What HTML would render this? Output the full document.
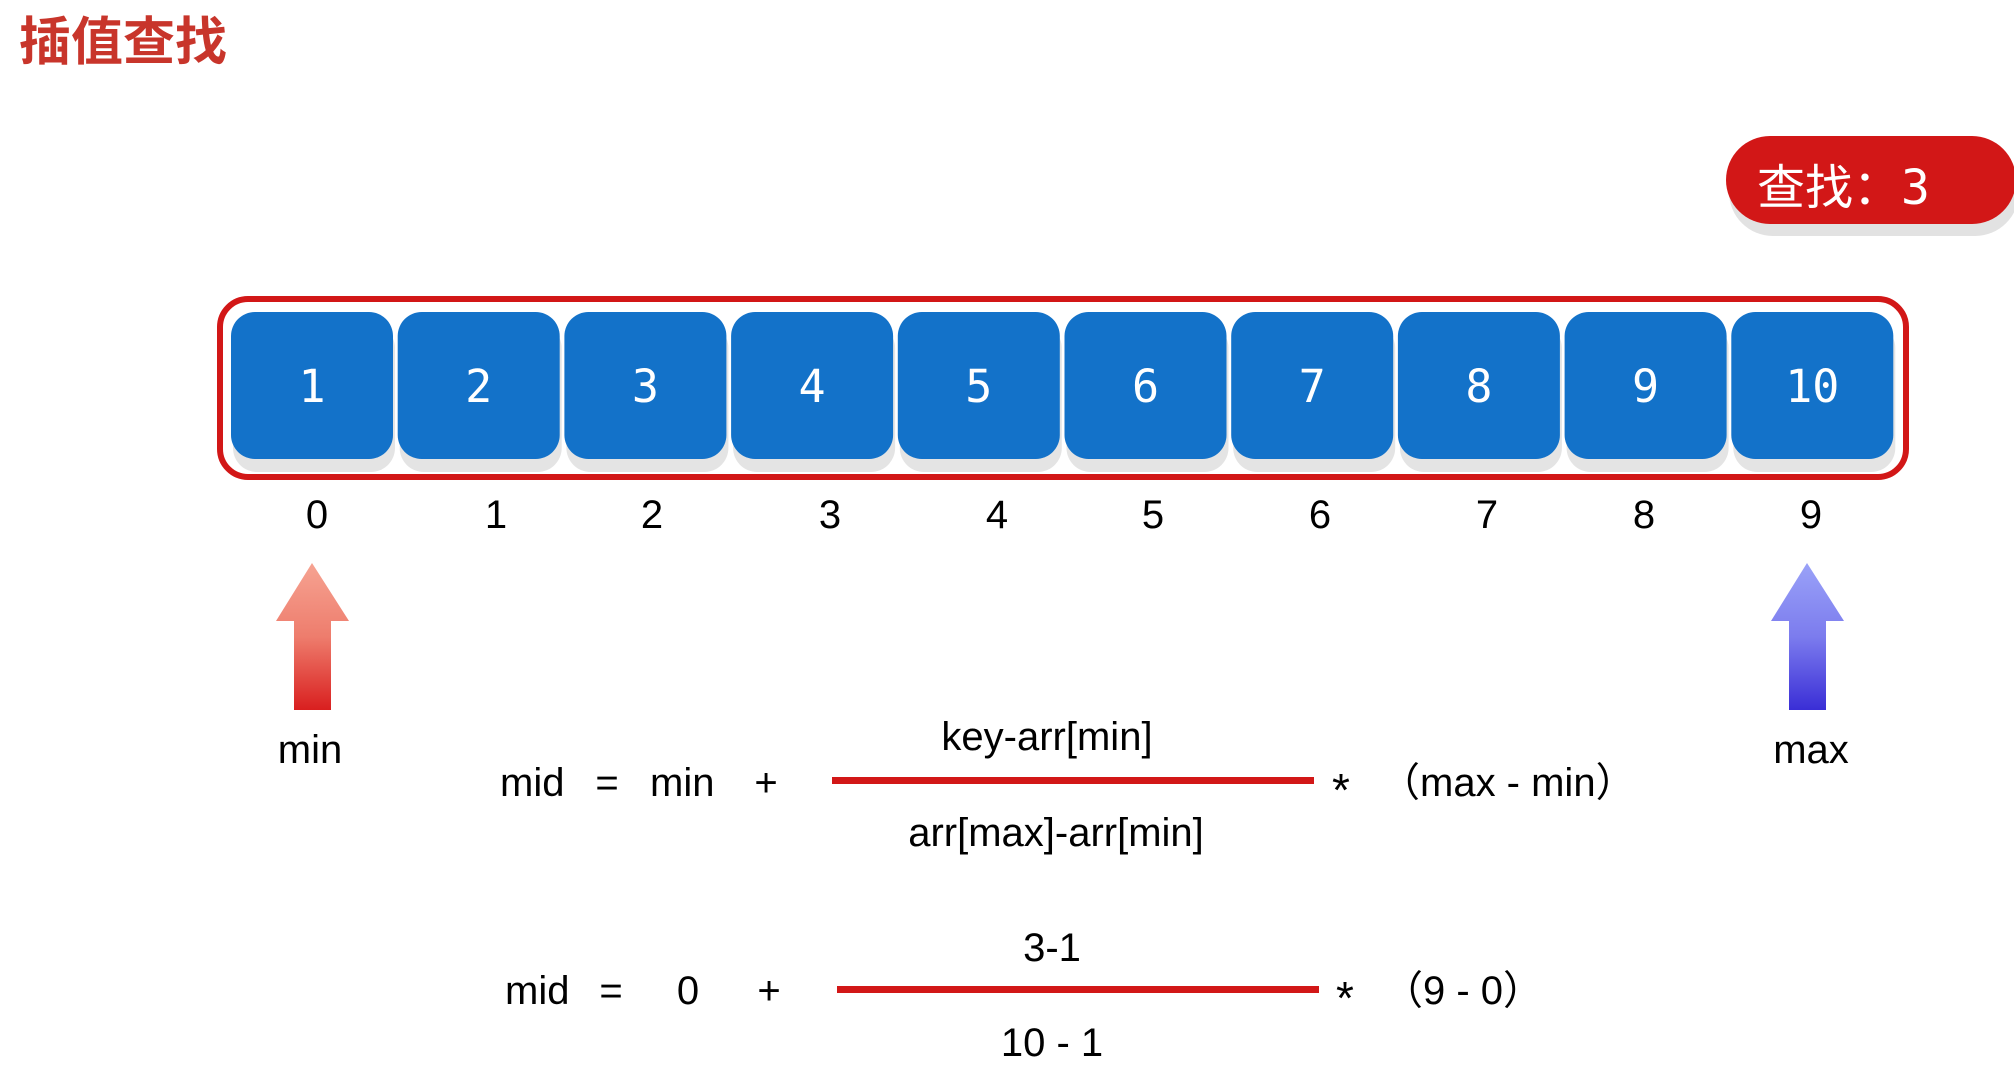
<!DOCTYPE html>
<html><head><meta charset="utf-8">
<style>
html,body{margin:0;padding:0;background:#fff;}
svg{display:block;}
.t{font-family:"Liberation Sans","Noto Sans CJK SC",sans-serif;fill:#000;}
</style></head>
<body>
<svg id="chart" width="2014" height="1066" viewBox="0 0 2014 1066">
<defs>
<linearGradient id="gRed" x1="0" y1="0" x2="0" y2="1">
<stop offset="0" stop-color="#f6a392"/><stop offset="0.5" stop-color="#ee7d6d"/><stop offset="1" stop-color="#d91f1f"/>
</linearGradient>
<linearGradient id="gBlue" x1="0" y1="0" x2="0" y2="1">
<stop offset="0" stop-color="#9aa2f8"/><stop offset="0.5" stop-color="#7c7cee"/><stop offset="1" stop-color="#3a2ed6"/>
</linearGradient>
</defs>
<text class="t" x="19" y="60" font-size="52" font-weight="bold" style="fill:#c8352b">插值查找</text>

<g>
<rect x="1729" y="148" width="290" height="88" rx="44" fill="#e2e2e2"/>
<rect x="1726" y="136" width="290" height="88" rx="44" fill="#d21717"/>
<text class="t" x="1757" y="204" font-size="48" style="fill:#fff;font-family:'DejaVu Sans Mono','Noto Sans CJK SC',monospace">查找：3</text>
</g>

<rect x="220" y="299" width="1686" height="178" rx="28" fill="#fff" stroke="#d21717" stroke-width="6"/>
<g id="cells"></g>
<g id="indices"></g>

<g>
<polygon points="312,563 349,621 331,621 331,710 294,710 294,621 276,621" fill="url(#gRed)"/>
</g>
<g>
<polygon points="1807,563 1844,621 1826,621 1826,710 1789,710 1789,621 1771,621" fill="url(#gBlue)"/>
</g>
<text class="t" x="310" y="763" font-size="40" text-anchor="middle">min</text>
<text class="t" x="1811" y="763" font-size="40" text-anchor="middle">max</text>

<g>
<text class="t" x="500" y="796" font-size="40">mid</text>
<text class="t" x="607" y="796" font-size="40" text-anchor="middle">=</text>
<text class="t" x="650" y="796" font-size="40">min</text>
<text class="t" x="766" y="796" font-size="40" text-anchor="middle">+</text>
<rect x="832" y="777" width="482" height="7" fill="#d21717"/>
<text class="t" x="1047" y="750" font-size="40" text-anchor="middle">key-arr[min]</text>
<text class="t" x="1056" y="846" font-size="40" text-anchor="middle">arr[max]-arr[min]</text>
<text class="t" x="1341" y="806" font-size="46" text-anchor="middle">*</text>
<text class="t" x="1380" y="796" font-size="40">（max - min）</text>
</g>

<g>
<text class="t" x="505" y="1004" font-size="40">mid</text>
<text class="t" x="611" y="1004" font-size="40" text-anchor="middle">=</text>
<text class="t" x="688" y="1004" font-size="40" text-anchor="middle">0</text>
<text class="t" x="769" y="1004" font-size="40" text-anchor="middle">+</text>
<rect x="837" y="986" width="482" height="7" fill="#d21717"/>
<text class="t" x="1052" y="961" font-size="40" text-anchor="middle">3-1</text>
<text class="t" x="1052" y="1056" font-size="40" text-anchor="middle">10 - 1</text>
<text class="t" x="1345" y="1014" font-size="46" text-anchor="middle">*</text>
<text class="t" x="1383" y="1004" font-size="40">（9 - 0）</text>
</g>
</svg>
<script>
const values = [1,2,3,4,5,6,7,8,9,10];
const indexLabels = ["0","1","2","3","4","5","6","7","8","9"];
const NS = "http://www.w3.org/2000/svg";
const cellX0 = 231, cellPitch = 166.7, cellW = 162;
const indexCenters = [317,496,652,830,997,1153,1320,1487,1644,1811];
function xCell(i){ return cellX0 + i*cellPitch; }
const cells = document.getElementById('cells');
values.forEach((v,i)=>{
  const g = document.createElementNS(NS,'g');
  
  
  const sh = document.createElementNS(NS,'rect');
  sh.setAttribute('x', xCell(i)+2); sh.setAttribute('y', 324); sh.setAttribute('width', cellW); sh.setAttribute('height', 148);
  sh.setAttribute('rx', 24); sh.setAttribute('fill', '#e4e4e4');
  g.appendChild(sh);
  const r = document.createElementNS(NS,'rect');
  r.setAttribute('x', xCell(i)); r.setAttribute('y', 312); r.setAttribute('width', cellW); r.setAttribute('height', 147);
  r.setAttribute('rx', 24); r.setAttribute('fill', '#1372c9');
  g.appendChild(r);
  const t = document.createElementNS(NS,'text');
  t.setAttribute('x', xCell(i)+cellW/2); t.setAttribute('y', 402);
  t.setAttribute('text-anchor','middle'); t.setAttribute('font-size','45');
  t.setAttribute('style','fill:#fff;font-family:"DejaVu Sans Mono",monospace');
  
  
  t.textContent = v;
  g.appendChild(t);
  cells.appendChild(g);
});
const idx = document.getElementById('indices');
indexLabels.forEach((l,i)=>{
  const t = document.createElementNS(NS,'text');
  t.setAttribute('x', indexCenters[i] !== undefined ? indexCenters[i] : xCell(i)+cellW/2);
  t.setAttribute('y', 528);
  t.setAttribute('text-anchor','middle'); t.setAttribute('font-size','40');
  t.setAttribute('class','t');
  
  
  t.textContent = l;
  idx.appendChild(t);
});
</script>
</body></html>
